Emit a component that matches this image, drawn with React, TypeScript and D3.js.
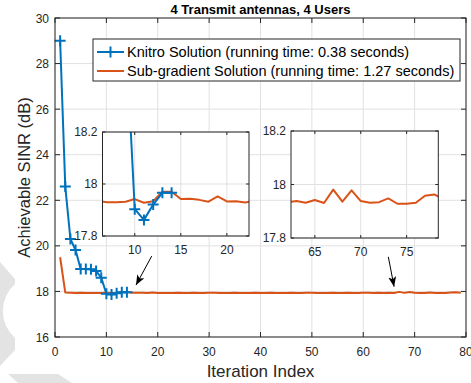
import React from "react";
import * as d3 from "d3";

// Iteration-by-iteration SINR of the two solvers
const knitroIter = [1, 2, 3, 4, 5, 6, 7, 8, 9, 10, 11, 12, 13, 14];
const knitroSinr = [29.0, 22.6, 20.3, 19.82, 18.98, 18.98, 18.97, 18.9, 18.6, 17.903, 17.862, 17.921, 17.966, 17.966];

const subgradIter = d3.range(1, 80);
const subgradSinr = [
  19.5, 17.95, 17.94, 17.93, 17.94, 17.935, 17.93, 17.93, 17.932, 17.942,
  17.928, 17.934, 17.97, 17.97, 17.942, 17.943, 17.939, 17.932, 17.952, 17.933,
  17.934, 17.929, 17.935, 17.938, 17.932, 17.936, 17.94, 17.934, 17.93, 17.937,
  17.942, 17.936, 17.931, 17.935, 17.939, 17.934, 17.93, 17.936, 17.941, 17.935,
  17.932, 17.938, 17.934, 17.929, 17.936, 17.94, 17.935, 17.931, 17.937, 17.943,
  17.936, 17.93, 17.934, 17.939, 17.933, 17.936, 17.941, 17.935, 17.931, 17.937,
  17.94, 17.934, 17.938, 17.932, 17.942, 17.931, 17.981, 17.936, 17.978, 17.938,
  17.932, 17.934, 17.948, 17.928, 17.928, 17.932, 17.958, 17.963, 17.945,
];

const xTicks = [0, 10, 20, 30, 40, 50, 60, 70, 80];
const yTicks = [16, 18, 20, 22, 24, 26, 28, 30];
const zoomYTicks = [17.8, 18, 18.2];
const zoomLeftXTicks = [10, 15, 20];
const zoomRightXTicks = [65, 70, 75];

const titleText = "4 Transmit antennas, 4 Users";
const xLabel = "Iteration Index";
const yLabel = "Achievable SINR (dB)";
const legendLabels = [
  "Knitro Solution (running time: 0.38 seconds)",
  "Sub-gradient Solution (running time: 1.27 seconds)",
];

// arrows pointing from the main plot towards the zoomed windows: [x0, y0, x1, y1] in data units
const arrows = [
  [18.82, 19.55, 15.77, 18.28],
  [64.88, 19.52, 66.0, 18.21],
];

const BLUE = "#0072BD";
const ORANGE = "#D95319";
const AXIS = "#262626";
const GRID = "#e1e1e1";
const FONT = "'Liberation Sans', Arial, Helvetica, sans-serif";

type Pt = [number, number];

function Plus({ x, y, size = 10 }: { x: number; y: number; size?: number }) {
  const h = size / 2;
  return (
    <path
      d={`M${x - h},${y}H${x + h}M${x},${y - h}V${y + h}`}
      stroke={BLUE}
      strokeWidth={2}
      fill="none"
    />
  );
}

type ZoomProps = {
  id: string;
  left: number;
  right: number;
  top: number;
  bottom: number;
  xDomain: [number, number];
  xTicks: number[];
  showKnitro: boolean;
};

function ZoomAxes({ id, left, right, top, bottom, xDomain, xTicks: ticks, showKnitro }: ZoomProps) {
  const x = d3.scaleLinear().domain(xDomain).range([left, right]);
  const y = d3.scaleLinear().domain([17.8, 18.2]).range([bottom, top]);
  const line = d3
    .line<Pt>()
    .x((d) => x(d[0]))
    .y((d) => y(d[1]));
  const sub: Pt[] = subgradIter.map((t, i) => [t, subgradSinr[i]]);
  const kn: Pt[] = knitroIter.map((t, i) => [t, knitroSinr[i]]);
  const tl = 3;
  return (
    <g>
      <defs>
        <clipPath id={id}>
          <rect x={left} y={top} width={right - left} height={bottom - top} />
        </clipPath>
      </defs>
      <rect x={left} y={top} width={right - left} height={bottom - top} fill="#fff" />
      {ticks.map((t) => (
        <line key={"gx" + t} x1={x(t)} x2={x(t)} y1={top} y2={bottom} stroke={GRID} strokeWidth={1} />
      ))}
      {zoomYTicks.map((t) => (
        <line key={"gy" + t} x1={left} x2={right} y1={y(t)} y2={y(t)} stroke={GRID} strokeWidth={1} />
      ))}
      <g clipPath={`url(#${id})`}>
        <path d={line(sub) || ""} stroke={ORANGE} strokeWidth={2} fill="none" strokeLinejoin="round" />
        {showKnitro && (
          <g>
            <path d={line(kn) || ""} stroke={BLUE} strokeWidth={2} fill="none" strokeLinejoin="round" />
            {kn.map((d) => (
              <Plus key={d[0]} x={x(d[0])} y={y(d[1])} size={11} />
            ))}
          </g>
        )}
      </g>
      <rect x={left} y={top} width={right - left} height={bottom - top} fill="none" stroke={AXIS} strokeWidth={1} />
      {ticks.map((t) => (
        <g key={"tx" + t}>
          <line x1={x(t)} x2={x(t)} y1={bottom} y2={bottom - tl} stroke={AXIS} />
          <line x1={x(t)} x2={x(t)} y1={top} y2={top + tl} stroke={AXIS} />
          <text x={x(t)} y={bottom + 18} textAnchor="middle" fontSize={12} fill={AXIS} fontFamily={FONT}>
            {t}
          </text>
        </g>
      ))}
      {zoomYTicks.map((t) => (
        <g key={"ty" + t}>
          <line x1={left} x2={left + tl} y1={y(t)} y2={y(t)} stroke={AXIS} />
          <line x1={right} x2={right - tl} y1={y(t)} y2={y(t)} stroke={AXIS} />
          <text x={left - 5} y={y(t) + 4} textAnchor="end" fontSize={12} fill={AXIS} fontFamily={FONT}>
            {d3.format(".1~f")(t)}
          </text>
        </g>
      ))}
    </g>
  );
}

export default function App() {
  const W = 471;
  const H = 383;
  const m = { left: 55, right: 466, top: 18, bottom: 337 };
  const x = d3.scaleLinear().domain([0, 80]).range([m.left, m.right]);
  const y = d3.scaleLinear().domain([16, 30]).range([m.bottom, m.top]);
  const line = d3
    .line<Pt>()
    .x((d) => x(d[0]))
    .y((d) => y(d[1]));
  const sub: Pt[] = subgradIter.map((t, i) => [t, subgradSinr[i]]);
  const kn: Pt[] = knitroIter.map((t, i) => [t, knitroSinr[i]]);
  const tl = 5;
  const cx = (m.left + m.right) / 2;
  const cy = (m.top + m.bottom) / 2;

  return (
    <svg width={W} height={H} style={{ position: "absolute", left: 0, top: 0, background: "#fff" }}>
      <defs>
        <marker id="arrowHead" viewBox="0 0 10 8" refX="10" refY="4" markerWidth="10" markerHeight="8" markerUnits="userSpaceOnUse" orient="auto">
          <path d="M0,0L10,4L0,8L2.5,4Z" fill="#000" />
        </marker>
      </defs>

      {/* faint background emblem */}
      <g fill="#e3e3e3">
        <path d="M0,262 L15,279 L15,284 A36,36 0 0 0 15,338 L15,350 L0,366 Z" />
        <path d="M8,374 L58,374 L72,383 L18,383 Z" />
      </g>

      {/* grid */}
      {xTicks.map((t) => (
        <line key={"gx" + t} x1={x(t)} x2={x(t)} y1={m.top} y2={m.bottom} stroke={GRID} />
      ))}
      {yTicks.map((t) => (
        <line key={"gy" + t} x1={m.left} x2={m.right} y1={y(t)} y2={y(t)} stroke={GRID} />
      ))}

      {/* series */}
      <path d={line(sub) || ""} stroke={ORANGE} strokeWidth={2} fill="none" strokeLinejoin="round" />
      <path d={line(kn) || ""} stroke={BLUE} strokeWidth={2} fill="none" strokeLinejoin="round" />
      {kn.map((d) => (
        <Plus key={d[0]} x={x(d[0])} y={y(d[1])} size={11} />
      ))}

      {/* main axes box and ticks */}
      <rect x={m.left} y={m.top} width={m.right - m.left} height={m.bottom - m.top} fill="none" stroke={AXIS} strokeWidth={1} />
      {xTicks.map((t) => (
        <g key={"tx" + t}>
          <line x1={x(t)} x2={x(t)} y1={m.bottom} y2={m.bottom - tl} stroke={AXIS} />
          <line x1={x(t)} x2={x(t)} y1={m.top} y2={m.top + tl} stroke={AXIS} />
          <text x={x(t)} y={m.bottom + 19} textAnchor="middle" fontSize={12} fill={AXIS} fontFamily={FONT}>
            {t}
          </text>
        </g>
      ))}
      {yTicks.map((t) => (
        <g key={"ty" + t}>
          <line x1={m.left} x2={m.left + tl} y1={y(t)} y2={y(t)} stroke={AXIS} />
          <line x1={m.right} x2={m.right - tl} y1={y(t)} y2={y(t)} stroke={AXIS} />
          <text x={m.left - 6} y={y(t) + 4.5} textAnchor="end" fontSize={12} fill={AXIS} fontFamily={FONT}>
            {t}
          </text>
        </g>
      ))}

      {/* legend */}
      <g>
        <rect x={93} y={39} width={367} height={42} fill="#fff" stroke={AXIS} strokeWidth={1} />
        <line x1={97} x2={124} y1={52} y2={52} stroke={BLUE} strokeWidth={2} />
        <Plus x={110.5} y={52} size={11} />
        <text x={127} y={57} fontSize={14.5} fill="#000" fontFamily={FONT}>
          {legendLabels[0]}
        </text>
        <line x1={97} x2={124} y1={71} y2={71} stroke={ORANGE} strokeWidth={2} />
        <text x={127} y={76} fontSize={14.5} fill="#000" fontFamily={FONT}>
          {legendLabels[1]}
        </text>
      </g>

      {/* zoomed windows */}
      <ZoomAxes id="zoomA" left={102.5} right={249} top={132} bottom={236} xDomain={[6.5, 22.4]} xTicks={zoomLeftXTicks} showKnitro={true} />
      <ZoomAxes id="zoomB" left={291} right={438.3} top={131} bottom={238} xDomain={[62.4, 78.45]} xTicks={zoomRightXTicks} showKnitro={false} />

      {/* arrows */}
      {arrows.map((a, i) => (
        <line
          key={"ar" + i}
          x1={x(a[0])}
          y1={y(a[1])}
          x2={x(a[2])}
          y2={y(a[3])}
          stroke="#000"
          strokeWidth={1}
          markerEnd="url(#arrowHead)"
        />
      ))}

      {/* title and axis labels */}
      <text x={cx} y={13.5} textAnchor="middle" fontSize={13} fontWeight="bold" fill="#000" fontFamily={FONT}>
        {titleText}
      </text>
      <text x={cx} y={377} textAnchor="middle" fontSize={17} fill={AXIS} fontFamily={FONT}>
        {xLabel}
      </text>
      <text
        transform={`translate(30,${cy}) rotate(-90)`}
        textAnchor="middle"
        fontSize={16.5}
        fill={AXIS}
        fontFamily={FONT}
      >
        {yLabel}
      </text>
    </svg>
  );
}
